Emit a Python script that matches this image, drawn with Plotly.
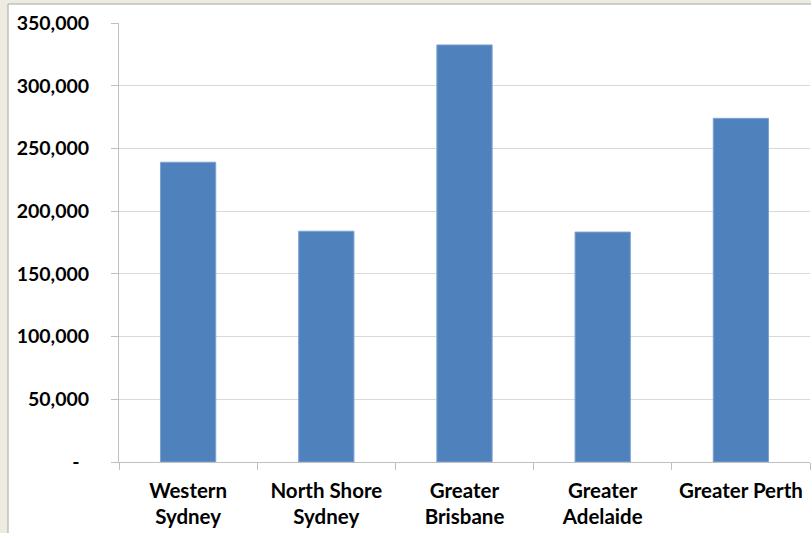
import plotly.graph_objects as go

regions = ["Western<br>Sydney", "North Shore<br>Sydney", "Greater<br>Brisbane",
           "Greater<br>Adelaide", "Greater Perth"]
values = [239000, 184000, 332500, 183300, 274000]

y_ticks = [0, 50000, 100000, 150000, 200000, 250000, 300000, 350000]
y_labels = ["-\u00a0\u00a0", "50,000", "100,000", "150,000", "200,000",
            "250,000", "300,000", "350,000"]

W, H = 811, 533
ml, mr, mt, mb = 119, 1, 23, 71
pw, ph = W - ml - mr, H - mt - mb

def px_x(p):
    return (p - ml) / pw

def px_y(p):
    return (H - mb - p) / ph

fig = go.Figure(go.Bar(
    x=regions, y=values, width=0.4,
    marker=dict(color="#4F81BD", line=dict(color="#7EA3D0", width=1)),
))

# white chart area over the beige page
fig.add_shape(type="rect", xref="paper", yref="paper",
              x0=px_x(8), x1=px_x(W + 10), y0=px_y(H + 10), y1=px_y(4),
              fillcolor="white", line=dict(color="#A6A6A6", width=1), layer="below")

yfont = dict(family="Lato", size=19.5, color="black", weight="bold")
xfont = dict(family="Lato", size=20.5, color="black", weight="bold")

fig.update_layout(
    width=W, height=H,
    margin=dict(l=ml, r=mr, t=mt, b=mb),
    paper_bgcolor="#EEECE1", plot_bgcolor="white",
    showlegend=False, bargap=0.6,
    font=yfont,
)
fig.update_xaxes(
    range=[-0.5, 4.5], tickson="boundaries", ticks="outside", ticklen=7,
    tickcolor="#BFBFBF", showline=True, linecolor="#BFBFBF", linewidth=1,
    showgrid=False, tickfont=xfont, ticklabelstandoff=10,
)
fig.update_yaxes(
    range=[0, 350000], tickvals=y_ticks, ticktext=y_labels,
    ticks="outside", ticklen=7, tickcolor="#BFBFBF",
    showline=True, linecolor="#BFBFBF", linewidth=1,
    showgrid=True, gridcolor="#D9D9D9", gridwidth=1, zeroline=False,
    tickfont=yfont, ticklabelstandoff=18,
)

fig.write_html("out.html")
